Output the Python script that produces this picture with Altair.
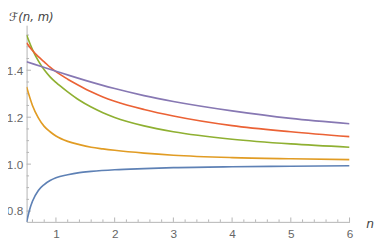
import altair as alt
import pandas as pd

# ---- data ----
blue_n = [0.5, 0.55, 0.6, 0.7, 0.8, 0.9, 1.0, 1.2, 1.4, 1.6, 2.0, 2.5, 3.0, 4.0, 5.0, 6.0]
blue_v = [0.753, 0.805, 0.842, 0.888, 0.913, 0.930, 0.942, 0.955, 0.964, 0.969, 0.976,
          0.981, 0.985, 0.989, 0.991, 0.993]

orange_n = [0.5, 0.6, 0.7, 0.8, 0.9, 1.0, 1.2, 1.4, 1.6, 1.8, 2.0, 2.5, 3.0, 4.0, 5.0, 6.0]
orange_v = [1.329, 1.250, 1.197, 1.161, 1.138, 1.120, 1.097, 1.083, 1.072, 1.065, 1.059,
            1.047, 1.038, 1.028, 1.023, 1.0195]

green_n = [0.5, 0.6, 0.7, 0.8, 0.9, 1.0, 1.2, 1.4, 1.6, 1.8, 2.0, 2.5, 3.0, 4.0, 5.0, 6.0]
green_v = [1.550, 1.488, 1.440, 1.402, 1.372, 1.348, 1.308, 1.272, 1.243, 1.219, 1.199,
           1.163, 1.138, 1.106, 1.086, 1.072]

red_n = [0.5, 0.6, 0.7, 0.8, 0.9, 1.0, 1.2, 1.4, 1.6, 1.8, 2.0, 2.5, 3.0, 4.0, 5.0, 6.0]
red_v = [1.517, 1.484, 1.458, 1.436, 1.413, 1.394, 1.362, 1.334, 1.308, 1.286, 1.268,
         1.233, 1.205, 1.164, 1.138, 1.117]

purple_n = [0.5, 0.75, 1.0, 1.25, 1.5, 2.0, 2.5, 3.0, 4.0, 5.0, 6.0]
purple_v = [1.436, 1.416, 1.396, 1.376, 1.357, 1.322, 1.292, 1.267, 1.227, 1.195, 1.172]

series_names = ["a", "b", "c", "d", "e"]
series_colors = ["#5E81B5", "#E19C24", "#8FB032", "#EB6235", "#8778B3"]

x_major = [1, 2, 3, 4, 5, 6]
x_minor = [0.6, 0.8, 1.2, 1.4, 1.6, 1.8, 2.2, 2.4, 2.6, 2.8, 3.2, 3.4, 3.6, 3.8,
           4.2, 4.4, 4.6, 4.8, 5.2, 5.4, 5.6, 5.8]
y_major = [0.8, 1.0, 1.2, 1.4]
y_minor = [0.85, 0.9, 0.95, 1.05, 1.1, 1.15, 1.25, 1.3, 1.35, 1.45, 1.5, 1.55]

x_domain = [0.5, 6.0]
y_domain = [0.754, 1.592]

W, H = 330, 201
AXIS = "#b3b3b3"
LABEL = "#666666"
FONT = "Liberation Sans"

rows = []
for name, ns, vs in zip(series_names,
                        [blue_n, orange_n, green_n, red_n, purple_n],
                        [blue_v, orange_v, green_v, red_v, purple_v]):
    for n, v in zip(ns, vs):
        rows.append({"s": name, "n": n, "v": v})
df = pd.DataFrame(rows)

xs = alt.Scale(domain=x_domain, nice=False, zero=False)
ys = alt.Scale(domain=y_domain, nice=False, zero=False)

lines = alt.Chart(df).mark_line(strokeWidth=1.7, interpolate="monotone", clip=True).encode(
    x=alt.X("n:Q", scale=xs,
            axis=alt.Axis(values=x_major, format="d", ticks=False, grid=False,
                          domainColor=AXIS, domainWidth=1, labelColor=LABEL,
                          labelFont=FONT, labelFontSize=12, labelPadding=7,
                          title=None, labelFlush=False)),
    y=alt.Y("v:Q", scale=ys,
            axis=alt.Axis(values=y_major, format=".1f", ticks=False, grid=False,
                          domainColor=AXIS, domainWidth=1, labelColor=LABEL,
                          labelFont=FONT, labelFontSize=12, labelPadding=4,
                          title=None, labelFlush=False)),
    color=alt.Color("s:N", scale=alt.Scale(domain=series_names, range=series_colors),
                    legend=None),
    detail="s:N",
)

xmaj = alt.Chart(pd.DataFrame({"t": x_major})).mark_rule(color=AXIS, strokeWidth=1).encode(
    x=alt.X("t:Q", scale=xs), y=alt.value(H), y2=alt.value(H - 4.5))
xmin = alt.Chart(pd.DataFrame({"t": x_minor})).mark_rule(color=AXIS, strokeWidth=1).encode(
    x=alt.X("t:Q", scale=xs), y=alt.value(H), y2=alt.value(H - 2.5))
ymaj = alt.Chart(pd.DataFrame({"t": y_major})).mark_rule(color=AXIS, strokeWidth=1).encode(
    y=alt.Y("t:Q", scale=ys), x=alt.value(0), x2=alt.value(4.5))
ymin = alt.Chart(pd.DataFrame({"t": y_minor})).mark_rule(color=AXIS, strokeWidth=1).encode(
    y=alt.Y("t:Q", scale=ys), x=alt.value(0), x2=alt.value(2.5))

ytitle = alt.Chart(pd.DataFrame({"t": ["\u2131(n, m)"]})).mark_text(
    align="left", baseline="alphabetic", font="DejaVu Sans", fontStyle="italic",
    fontSize=12, color="#444444").encode(
    text="t:N", x=alt.value(-18), y=alt.value(-4))

xtitle = alt.Chart(pd.DataFrame({"t": ["n"]})).mark_text(
    align="center", baseline="alphabetic", font="DejaVu Sans", fontStyle="italic",
    fontSize=12.5, color="#444444").encode(
    text="t:N", x=alt.value(351), y=alt.value(207))

chart = alt.layer(xmin, xmaj, ymin, ymaj, lines, ytitle, xtitle).properties(
    width=W, height=H,
    autosize=alt.AutoSizeParams(type="none"),
    padding={"left": 19, "top": 15, "right": 25, "bottom": 18},
).configure_view(stroke=None)

chart.save("out.html", embed_options={"renderer": "svg", "actions": False})
